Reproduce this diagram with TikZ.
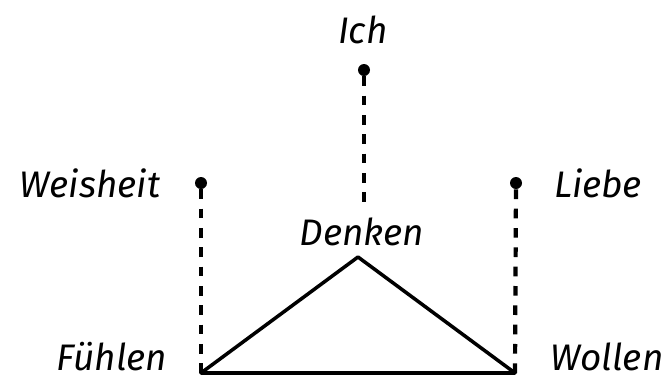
\documentclass[tikz,border=0pt]{standalone}
\usepackage{fontspec}
\setmainfont{Fira Sans}
\usetikzlibrary{calc}
\tikzset{lbl/.style={font=\fontsize{21}{25}\selectfont\itshape,inner sep=0pt},
 pt/.style={circle,fill,inner sep=0pt,minimum size=0.24cm},
 dsh/.style={line width=2.4pt,dash pattern=on 5.5pt off 5.5pt}}

\begin{document}
\begin{tikzpicture}
 \useasboundingbox (0,0) rectangle (13.24,7.58);
 % Ich, Weisheit, Liebe
 \node[lbl] (ichl) at (7.26,6.98) {Ich}; \node[pt] (ich) at (7.28,6.18) {};
 \node[lbl] (weisl) at (1.80,3.92) {Weisheit}; \node[pt] (weis) at (4.02,3.92) {};
 \node[lbl] (liebl) at (11.96,3.92) {Liebe}; \node[pt] (lieb) at (10.32,3.92) {};
 % Denken, Fuehlen, Wollen
 \node[lbl] (denl) at (7.24,2.94) {Denken}; \coordinate (den) at (7.16,2.44);
 \node[lbl] (fuel) at (2.24,0.44) {Fühlen}; \coordinate (fue) at (4.02,0.12);
 \node[lbl] (woll) at (12.14,0.44) {Wollen}; \coordinate (wol) at (10.30,0.12);
 \draw[dsh] (ich) -- ($(denl.north)+(0.04,0.25)$);
 \draw[dsh] (weis) -- (fue);
 \draw[dsh] (lieb) -- (wol);
 \draw[line width=2pt,line join=round] (fue) -- (den) -- (wol) -- cycle;
\end{tikzpicture}
\end{document}
